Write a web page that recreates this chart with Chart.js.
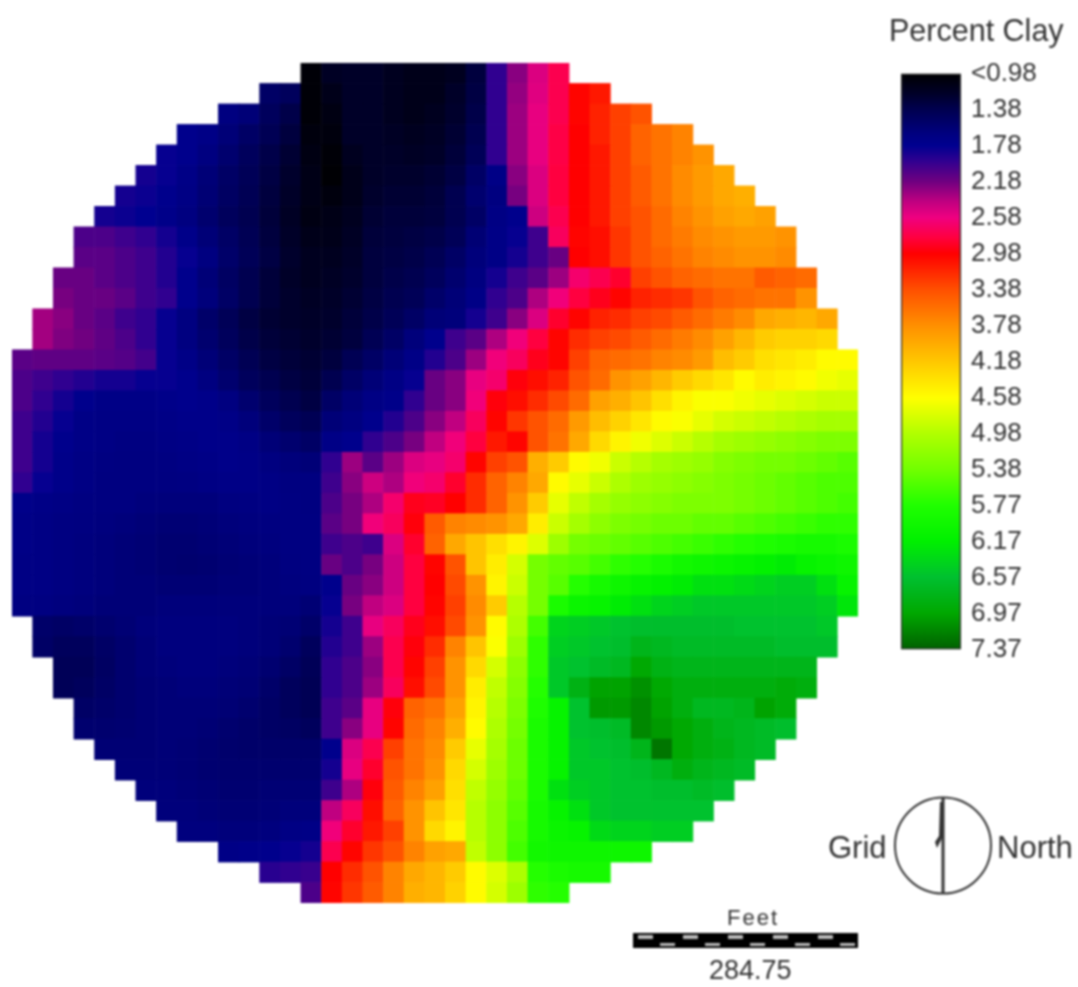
<!DOCTYPE html>
<html>
<head>
<meta charset="utf-8">
<title>Percent Clay</title>
<script src="https://cdn.jsdelivr.net/npm/chart.js@4/dist/chart.umd.min.js"></script>
<style>
  html, body { margin: 0; padding: 0; background: #fff; }
  #page { position: relative; width: 1078px; height: 987px; overflow: hidden; filter: blur(0.9px);
          font-family: "Liberation Sans", Arial, sans-serif; color: #333; }
  #page canvas { position: absolute; }
  .lbl { position: absolute; white-space: nowrap; line-height: 1; }
  svg { position: absolute; left: 0; top: 0; }
</style>
</head>
<body>
<div id="page">
  <canvas id="map" width="1078" height="987" style="left:0;top:0"></canvas>
  <canvas id="ramp" width="188" height="627" style="left:890px;top:48px"></canvas>
  <div class="lbl" style="left:889px;top:15px;font-size:30.5px">Percent Clay</div>
  <div class="lbl" style="left:828px;top:832px;font-size:31px">Grid</div>
  <div class="lbl" style="left:997px;top:832px;font-size:31px">North</div>
  <div class="lbl" style="left:727px;top:907px;font-size:22px;letter-spacing:2px">Feet</div>
  <div class="lbl" style="left:709px;top:957px;font-size:27px">284.75</div>
  <svg id="marks" width="1078" height="987"></svg>
</div>
<script>
// Colour ramp stops (percent clay -> colour)
const rampValues = [0.98, 1.2, 1.38, 1.65, 1.78, 1.95, 2.18, 2.4, 2.58, 2.8, 2.98, 3.38, 3.78, 4.18, 4.58, 4.98, 5.38, 5.77, 6.17, 6.57, 6.97, 7.37];
const rampColors = ['#000000', '#000028', '#000050', '#000080', '#000090', '#300090', '#700080', '#c00080', '#f00080', '#ff0040', '#ff0000', '#ff5000', '#ff9000', '#ffc800', '#ffff00', '#b0ff00', '#70ff00', '#20ff00', '#00f000', '#00c030', '#00a800', '#006000'];
const legendTicks = ['<0.98', '1.38', '1.78', '2.18', '2.58', '2.98', '3.38', '3.78', '4.18', '4.58', '4.98', '5.38', '5.77', '6.17', '6.57', '6.97', '7.37'];

// First column of each row of the round grid
const rowStart = [14, 12, 10, 8, 7, 6, 5, 4, 3, 3, 2, 2, 1, 1, 0, 0, 0, 0, 0, 0, 0, 0, 0, 0, 0, 0, 0, 1, 1, 2, 2, 3, 3, 4, 5, 6, 7, 8, 10, 12, 14];

// Percent clay, top row first
const clayRows = [
  [1.02,1.18,1.2,1.2,1.15,1.12,1.12,1.15,1.3,1.95,2.25,2.5,2.75],
  [1.5,1.45,1.02,1.12,1.2,1.2,1.15,1.12,1.12,1.2,1.32,1.95,2.28,2.52,2.75,3.0,3.1],
  [1.65,1.6,1.45,1.35,1.02,1.08,1.2,1.2,1.15,1.12,1.15,1.22,1.35,1.95,2.3,2.55,2.75,3.0,3.15,3.3,3.4],
  [1.75,1.7,1.6,1.5,1.4,1.3,1.05,1.05,1.2,1.2,1.18,1.15,1.18,1.25,1.38,1.95,2.3,2.55,2.78,2.98,3.15,3.3,3.5,3.6,3.7],
  [1.8,1.75,1.65,1.55,1.45,1.35,1.25,1.08,1.02,1.15,1.2,1.2,1.18,1.2,1.28,1.42,1.95,2.3,2.55,2.78,2.98,3.1,3.3,3.5,3.6,3.7,3.8],
  [1.85,1.8,1.7,1.6,1.5,1.42,1.32,1.22,1.1,1.0,1.12,1.2,1.22,1.22,1.25,1.32,1.5,1.7,2.25,2.5,2.8,2.98,3.1,3.3,3.45,3.6,3.75,3.85,3.95],
  [1.85,1.82,1.75,1.68,1.58,1.48,1.4,1.3,1.2,1.1,1.05,1.12,1.22,1.25,1.25,1.28,1.38,1.55,1.65,2.2,2.5,2.8,2.98,3.1,3.3,3.45,3.6,3.75,3.85,3.95,4.0],
  [1.85,1.82,1.78,1.72,1.65,1.55,1.45,1.38,1.28,1.18,1.08,1.1,1.15,1.25,1.28,1.28,1.3,1.38,1.5,1.68,1.75,2.45,2.75,2.98,3.1,3.3,3.4,3.55,3.7,3.8,3.9,3.95,3.9],
  [2.05,2.05,2.0,1.95,1.85,1.72,1.6,1.5,1.4,1.3,1.2,1.12,1.12,1.18,1.28,1.3,1.32,1.35,1.42,1.58,1.7,1.8,2.0,2.7,3.0,3.05,3.25,3.4,3.55,3.65,3.75,3.8,3.85,3.85,3.8],
  [2.1,2.1,2.05,2.0,1.9,1.8,1.65,1.52,1.42,1.32,1.22,1.15,1.15,1.2,1.3,1.32,1.35,1.4,1.5,1.62,1.7,1.85,2.0,2.15,2.98,3.05,3.25,3.4,3.5,3.6,3.7,3.75,3.8,3.8,3.75],
  [2.15,2.15,2.1,2.05,2.0,1.9,1.75,1.6,1.48,1.38,1.28,1.2,1.15,1.18,1.22,1.3,1.35,1.38,1.45,1.55,1.65,1.85,2.0,2.1,2.3,2.65,2.75,2.85,3.3,3.4,3.5,3.55,3.6,3.6,3.45,3.5,3.55],
  [2.2,2.15,2.15,2.1,2.0,1.95,1.75,1.62,1.5,1.38,1.28,1.22,1.18,1.2,1.25,1.32,1.38,1.42,1.52,1.6,1.7,1.95,2.05,2.35,2.6,2.8,2.9,3.0,3.15,3.2,3.25,3.4,3.5,3.55,3.6,3.6,3.8],
  [2.32,2.25,2.15,2.1,2.0,1.95,1.8,1.65,1.52,1.42,1.32,1.25,1.22,1.2,1.22,1.28,1.35,1.42,1.5,1.6,1.62,1.85,2.0,2.25,2.5,2.85,3.0,3.15,3.2,3.3,3.35,3.45,3.55,3.65,3.75,3.95,4.0,4.05,3.95],
  [2.32,2.22,2.18,2.12,2.05,1.95,1.8,1.65,1.55,1.45,1.35,1.28,1.25,1.22,1.25,1.3,1.4,1.5,1.62,1.75,2.0,2.1,2.35,2.6,2.8,3.0,3.2,3.3,3.35,3.45,3.55,3.65,3.75,3.9,4.05,4.2,4.25,4.25,4.3],
  [2.1,2.12,2.12,2.12,2.1,2.08,2.02,1.8,1.7,1.6,1.5,1.4,1.32,1.28,1.25,1.3,1.4,1.5,1.6,1.7,1.9,2.05,2.3,2.6,2.7,2.9,3.0,3.3,3.5,3.55,3.6,3.7,3.75,3.85,4.1,4.2,4.35,4.4,4.45,4.55,4.55],
  [2.05,2.0,1.95,1.9,1.85,1.85,1.8,1.8,1.75,1.65,1.55,1.45,1.38,1.32,1.28,1.38,1.5,1.6,1.68,1.8,2.15,2.25,2.55,2.65,2.95,3.05,3.15,3.4,3.55,3.8,3.9,4.05,4.2,4.3,4.4,4.55,4.45,4.5,4.55,4.65,4.7],
  [2.05,1.95,1.85,1.75,1.7,1.7,1.7,1.72,1.75,1.72,1.65,1.55,1.45,1.38,1.32,1.5,1.6,1.68,1.72,1.95,2.15,2.25,2.6,2.95,3.05,3.2,3.35,3.55,3.9,4.0,4.15,4.35,4.5,4.6,4.6,4.65,4.7,4.75,4.8,4.85,4.85],
  [2.0,1.9,1.8,1.7,1.68,1.68,1.68,1.7,1.72,1.72,1.7,1.62,1.52,1.45,1.4,1.6,1.65,1.75,1.9,2.05,2.25,2.4,2.7,3.0,3.25,3.4,3.55,3.85,4.1,4.25,4.4,4.55,4.6,4.7,4.8,4.85,4.9,4.95,5.0,5.05,5.05],
  [2.0,1.85,1.75,1.7,1.68,1.66,1.66,1.68,1.7,1.72,1.72,1.68,1.6,1.55,1.5,1.7,1.75,1.95,2.05,2.2,2.4,2.6,2.8,3.1,3.0,3.4,3.6,3.95,4.3,4.5,4.65,4.75,4.85,4.95,5.05,5.1,5.15,5.2,5.25,5.3,5.3],
  [2.0,1.85,1.72,1.68,1.66,1.65,1.65,1.66,1.68,1.7,1.72,1.7,1.65,1.62,1.6,1.95,2.3,2.1,2.3,2.5,2.55,2.65,3.0,3.3,3.4,4.0,4.2,4.55,4.65,4.85,4.95,5.05,5.1,5.15,5.25,5.3,5.35,5.35,5.4,5.45,5.5],
  [1.95,1.8,1.72,1.68,1.65,1.65,1.65,1.65,1.66,1.68,1.7,1.7,1.68,1.65,1.65,2.0,2.25,2.45,2.35,2.6,2.65,2.85,3.2,3.5,3.7,3.95,4.55,4.7,4.85,5.0,5.1,5.15,5.2,5.25,5.3,5.35,5.4,5.45,5.5,5.55,5.55],
  [1.72,1.7,1.68,1.66,1.65,1.65,1.63,1.62,1.62,1.62,1.65,1.66,1.68,1.66,1.65,2.05,2.2,2.35,2.65,2.9,2.88,2.98,3.2,3.5,3.8,4.2,4.7,4.9,5.05,5.15,5.2,5.25,5.3,5.3,5.3,5.35,5.4,5.45,5.5,5.55,5.6],
  [1.7,1.68,1.66,1.65,1.64,1.62,1.6,1.58,1.58,1.6,1.62,1.64,1.65,1.66,1.66,2.1,2.2,2.6,2.7,2.95,3.45,3.7,3.75,3.8,3.95,4.45,4.85,5.05,5.2,5.3,5.35,5.4,5.4,5.45,5.45,5.5,5.55,5.6,5.65,5.7,5.7],
  [1.7,1.68,1.66,1.64,1.62,1.6,1.58,1.56,1.56,1.58,1.6,1.62,1.64,1.66,1.66,2.0,2.05,2.0,2.5,2.85,3.5,3.95,4.15,4.35,4.5,4.75,5.1,5.35,5.4,5.45,5.5,5.55,5.6,5.65,5.7,5.75,5.8,5.85,5.9,5.9,5.85],
  [1.68,1.68,1.66,1.64,1.62,1.6,1.58,1.56,1.55,1.56,1.58,1.6,1.62,1.65,1.66,2.15,2.05,2.2,2.45,2.8,3.0,3.4,4.15,4.45,4.8,5.35,5.45,5.5,5.6,5.7,5.75,5.85,5.95,6.0,6.05,6.1,6.15,6.2,6.1,6.05,6.0],
  [1.68,1.68,1.66,1.64,1.62,1.6,1.6,1.58,1.58,1.58,1.6,1.6,1.62,1.64,1.65,1.75,2.15,2.25,2.45,2.8,2.98,3.35,3.8,4.5,4.85,5.35,5.5,5.75,5.9,6.0,6.1,6.15,6.2,6.3,6.3,6.35,6.4,6.45,6.45,6.3,6.1],
  [1.66,1.66,1.64,1.62,1.6,1.6,1.6,1.62,1.62,1.62,1.62,1.62,1.62,1.62,1.58,1.8,2.2,2.4,2.5,2.8,3.0,3.3,3.75,4.2,4.95,5.35,5.85,6.05,6.1,6.2,6.3,6.4,6.45,6.5,6.5,6.5,6.5,6.5,6.5,6.45,6.25],
  [1.52,1.5,1.52,1.55,1.58,1.62,1.64,1.64,1.64,1.64,1.62,1.6,1.58,1.52,1.85,2.0,2.55,2.7,2.9,3.05,3.35,3.8,4.55,5.0,5.6,6.4,6.45,6.5,6.55,6.6,6.6,6.6,6.6,6.6,6.55,6.55,6.55,6.55,6.5],
  [1.5,1.45,1.45,1.5,1.55,1.6,1.64,1.64,1.64,1.64,1.62,1.6,1.55,1.45,1.9,2.0,2.3,2.75,2.95,3.2,3.7,4.15,4.6,5.1,5.7,6.45,6.5,6.55,6.6,6.75,6.7,6.65,6.65,6.65,6.65,6.65,6.6,6.6,6.6],
  [1.42,1.42,1.48,1.55,1.6,1.62,1.64,1.64,1.62,1.6,1.56,1.5,1.42,1.95,2.05,2.25,2.75,3.0,3.3,3.8,4.3,4.8,5.2,5.7,6.5,6.55,6.65,6.7,6.95,6.8,6.75,6.75,6.75,6.75,6.75,6.75,6.75],
  [1.42,1.45,1.5,1.55,1.58,1.6,1.62,1.62,1.6,1.58,1.52,1.45,1.4,1.95,2.05,2.3,2.7,3.05,3.35,3.8,4.45,4.9,5.25,5.75,6.5,6.8,7.0,7.0,7.1,6.95,6.85,6.85,6.85,6.85,6.85,6.9,6.85],
  [1.5,1.52,1.55,1.58,1.6,1.6,1.6,1.58,1.55,1.5,1.45,1.4,2.0,2.1,2.55,2.95,3.5,3.6,3.9,4.5,4.95,5.3,5.8,6.1,6.55,7.05,7.05,7.15,7.0,6.85,6.7,6.7,6.75,7.0,6.9],
  [1.55,1.55,1.56,1.58,1.6,1.6,1.58,1.55,1.52,1.5,1.48,1.45,2.0,2.25,2.55,3.0,3.55,3.7,4.0,4.55,5.0,5.35,5.85,6.1,6.55,6.6,6.65,7.15,7.05,6.95,6.85,6.75,6.7,6.65,6.6],
  [1.58,1.58,1.58,1.6,1.58,1.56,1.54,1.52,1.52,1.52,1.52,1.75,2.5,2.75,3.3,3.6,3.75,4.2,4.7,5.05,5.4,5.85,6.1,6.5,6.55,6.6,6.75,7.25,6.95,6.85,6.8,6.7,6.65],
  [1.6,1.6,1.6,1.58,1.56,1.55,1.55,1.55,1.55,1.55,1.85,2.55,2.85,3.4,3.6,3.8,4.3,4.8,5.1,5.4,5.85,6.1,6.5,6.5,6.55,6.6,6.7,6.85,6.75,6.7,6.65],
  [1.62,1.62,1.6,1.58,1.56,1.56,1.58,1.58,1.58,2.0,2.35,2.95,3.45,3.7,3.9,4.35,4.9,5.15,5.45,5.85,6.3,6.45,6.5,6.55,6.55,6.6,6.6,6.65,6.6],
  [1.62,1.62,1.6,1.58,1.58,1.6,1.62,1.62,2.4,2.7,3.05,3.5,3.8,4.15,4.4,4.95,5.2,5.5,5.9,6.1,6.3,6.5,6.55,6.55,6.55,6.55,6.55],
  [1.64,1.64,1.62,1.62,1.64,1.68,1.7,2.6,2.85,3.1,3.3,3.8,4.3,4.5,4.95,5.2,5.55,5.9,6.05,6.1,6.35,6.4,6.4,6.45,6.45],
  [1.7,1.72,1.75,1.8,1.85,2.75,3.0,3.25,3.4,3.7,3.9,3.95,4.9,5.2,5.6,5.95,6.0,6.0,6.0,6.0,6.0],
  [1.92,1.95,1.98,2.98,3.2,3.4,3.7,3.95,4.05,4.2,4.55,4.75,5.0,5.75,5.85,5.9,5.9],
  [2.05,3.0,3.25,3.45,3.7,4.0,4.05,4.25,4.55,4.8,5.1,5.7,5.75]
];

function hexToRgb(hex) {
  return [1, 3, 5].map(i => parseInt(hex.slice(i, i + 2), 16));
}

function clayColor(value) {
  if (value <= rampValues[0]) return rampColors[0];
  for (let i = 1; i < rampValues.length; i++) {
    if (value <= rampValues[i]) {
      const t = (value - rampValues[i - 1]) / (rampValues[i] - rampValues[i - 1]);
      const a = hexToRgb(rampColors[i - 1]);
      const b = hexToRgb(rampColors[i]);
      return `rgb(${a.map((c, k) => Math.round(c + (b[k] - c) * t)).join(',')})`;
    }
  }
  return rampColors[rampColors.length - 1];
}

const cells = [];
clayRows.forEach((row, r) => {
  row.forEach((value, i) => {
    cells.push({ x: rowStart[r] + i + 0.5, y: r + 0.5, v: value });
  });
});

// The map: one square point per grid cell
new Chart(document.getElementById('map'), {
  type: 'scatter',
  data: {
    datasets: [{
      data: cells,
      pointStyle: 'rect',
      borderWidth: 0,
      backgroundColor: ctx => clayColor(ctx.raw ? ctx.raw.v : 0),
      pointRadius: ctx => {
        const sx = ctx.chart.scales.x;
        return (sx.getPixelForValue(1) - sx.getPixelForValue(0) + 0.6) / 2 * Math.SQRT2;
      }
    }]
  },
  options: {
    responsive: false,
    animation: false,
    events: [],
    layout: { padding: { left: 12, right: 220, top: 63, bottom: 84 } },
    plugins: { legend: { display: false }, tooltip: { enabled: false } },
    scales: {
      x: { type: 'linear', min: 0, max: 41, display: false },
      y: { type: 'linear', min: 0, max: 41, reverse: true, display: false }
    }
  }
});

// The colour bar with its labels
new Chart(document.getElementById('ramp'), {
  type: 'bar',
  data: {
    labels: ['Percent Clay'],
    datasets: [{
      data: [[0, legendTicks.length - 1]],
      barPercentage: 1,
      categoryPercentage: 1,
      borderSkipped: false,
      borderWidth: 1.5,
      borderColor: '#222',
      backgroundColor: ctx => {
        const area = ctx.chart.chartArea;
        if (!area) return '#000';
        const g = ctx.chart.ctx.createLinearGradient(0, area.top, 0, area.bottom);
        rampValues.forEach((v, i) => {
          g.addColorStop((v - rampValues[0]) / (rampValues[rampValues.length - 1] - rampValues[0]), rampColors[i]);
        });
        return g;
      }
    }]
  },
  options: {
    responsive: false,
    animation: false,
    events: [],
    layout: { padding: { left: 11, top: 25, bottom: 1 } },
    plugins: { legend: { display: false }, tooltip: { enabled: false } },
    scales: {
      x: { display: false },
      y: {
        position: 'right',
        min: 0,
        max: legendTicks.length - 1,
        reverse: true,
        border: { display: false },
        grid: { display: false, drawTicks: false },
        afterFit: scale => { scale.width = 117; },
        ticks: {
          stepSize: 1,
          padding: 10,
          color: '#333',
          autoSkip: false,
          font: { family: '"Liberation Sans", Arial, sans-serif', size: 26 },
          callback: value => legendTicks[value]
        }
      }
    }
  }
});

// North arrow and scale bar
const barSegments = [0, 1, 2, 3, 4];
let marks = `
  <circle cx="943" cy="845.5" r="48" fill="none" stroke="#333" stroke-width="2"/>
  <line x1="943" y1="797" x2="943" y2="894" stroke="#333" stroke-width="3"/>
  <polygon points="940,802 944,802 942,838 937,848 935,842 939,836" fill="#333"/>
  <rect x="633" y="933" width="225" height="15" fill="#000"/>`;
barSegments.forEach(i => {
  marks += `<rect x="${638 + i * 45}" y="935" width="15" height="4" fill="#bbb"/>`;
  marks += `<rect x="${660 + i * 45}" y="943" width="15" height="3" fill="#bbb"/>`;
});
document.getElementById('marks').innerHTML = marks;
</script>
</body>
</html>
